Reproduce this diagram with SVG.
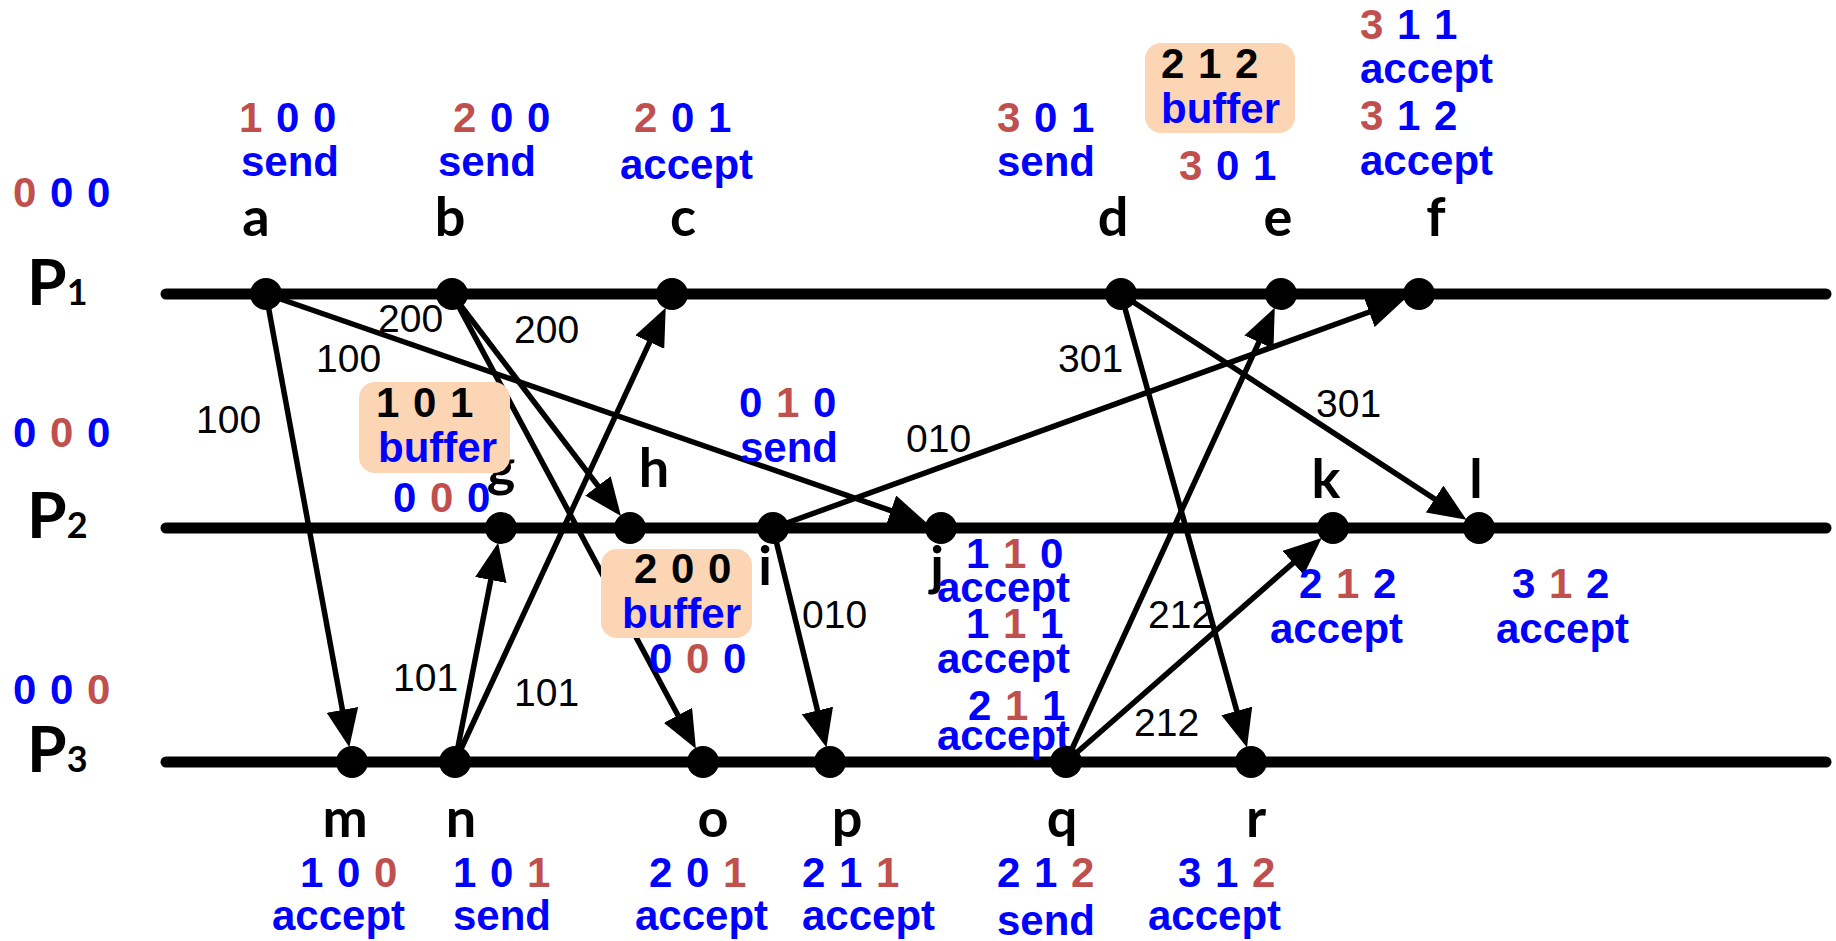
<svg xmlns="http://www.w3.org/2000/svg" width="1836" height="941" viewBox="0 0 1836 941">
<style>
.v{font-family:"Liberation Sans",Arial,sans-serif;font-weight:bold;font-size:42px;word-spacing:2px}
.b{fill:#0000FF}.r{fill:#C0504D}.k{fill:#000}
.lbl{font-family:"Liberation Sans",Arial,sans-serif;font-size:39px;fill:#000}
.n{font-family:Lato,"Open Sans",sans-serif;font-weight:bold;font-size:54px;text-anchor:middle;fill:#000}
.p{font-family:Lato,"Open Sans",sans-serif;font-weight:bold;font-size:64px;fill:#000}
.p .s{font-size:36px}
.tl{stroke:#000;stroke-width:11;stroke-linecap:round}
.ar{stroke:#000;stroke-width:5.5;fill:none;marker-end:url(#ah)}
.box{fill:#FCD5B5}
.dot{fill:#000}
</style>
<defs>
<marker id="ah" markerUnits="userSpaceOnUse" markerWidth="38" markerHeight="32" viewBox="0 0 38 32" refX="28" refY="16" orient="auto">
<path d="M0,0 L38,16 L0,32 z" fill="#000"/>
</marker>
</defs>
<rect width="1836" height="941" fill="#fff"/>

<g id="processes">
<line class="tl" x1="166" y1="294" x2="1826" y2="294"/>
<line class="tl" x1="166" y1="528" x2="1826" y2="528"/>
<line class="tl" x1="166" y1="762" x2="1826" y2="762"/>
<text class="p" x="27" y="305">P<tspan class="s">1</tspan></text>
<text class="p" x="27" y="538">P<tspan class="s">2</tspan></text>
<text class="p" x="27" y="772">P<tspan class="s">3</tspan></text>
<text class="v" x="13" y="207"><tspan class="r">0</tspan> <tspan class="b">0</tspan> <tspan class="b">0</tspan></text>
<text class="v" x="13" y="447"><tspan class="b">0</tspan> <tspan class="r">0</tspan> <tspan class="b">0</tspan></text>
<text class="v" x="13" y="704"><tspan class="b">0</tspan> <tspan class="b">0</tspan> <tspan class="r">0</tspan></text>
</g>

<g id="connectors">
<path class="ar" d="M266,294 L347.5,737.4"/>
<path class="ar" d="M266,294 L917.4,519.8"/>
<path class="ar" d="M452,294 L614.9,508.1"/>
<path class="ar" d="M452,294 L691.2,740"/>
<path class="ar" d="M455,762 L496.2,552.5"/>
<path class="ar" d="M455,762 L661.5,316.7"/>
<path class="ar" d="M773,528 L1395.5,302.5"/>
<path class="ar" d="M773,528 L824.1,737.7"/>
<path class="ar" d="M1121,294 L1244.3,737.9"/>
<path class="ar" d="M1121,294 L1458.1,514.3"/>
<path class="ar" d="M1066,762 L1270.6,316.7"/>
<path class="ar" d="M1066,762 L1314.2,544.5"/>
<text class="lbl" x="196" y="433">100</text>
<text class="lbl" x="316" y="372">100</text>
<text class="lbl" x="378" y="332">200</text>
<text class="lbl" x="514" y="343">200</text>
<text class="lbl" x="393" y="691">101</text>
<text class="lbl" x="514" y="706">101</text>
<text class="lbl" x="906" y="452">010</text>
<text class="lbl" x="802" y="628">010</text>
<text class="lbl" x="1058" y="372">301</text>
<text class="lbl" x="1316" y="417">301</text>
<text class="lbl" x="1148" y="628">212</text>
<text class="lbl" x="1134" y="736">212</text>
</g>

<g id="node-a"><circle class="dot" cx="266" cy="294" r="16"/><text class="n" x="256" y="236">a</text>
<text class="v" x="239" y="132"><tspan class="r">1</tspan> <tspan class="b">0</tspan> <tspan class="b">0</tspan></text>
<text class="v b" x="241" y="176">send</text></g>

<g id="node-b"><circle class="dot" cx="452" cy="294" r="16"/><text class="n" x="450" y="236">b</text>
<text class="v" x="453" y="132"><tspan class="r">2</tspan> <tspan class="b">0</tspan> <tspan class="b">0</tspan></text>
<text class="v b" x="438" y="176">send</text></g>

<g id="node-c"><circle class="dot" cx="672" cy="294" r="16"/><text class="n" x="683" y="236">c</text>
<text class="v" x="634" y="132"><tspan class="r">2</tspan> <tspan class="b">0</tspan> <tspan class="b">1</tspan></text>
<text class="v b" x="620" y="179">accept</text></g>

<g id="node-d"><circle class="dot" cx="1121" cy="294" r="16"/><text class="n" x="1113" y="236">d</text>
<text class="v" x="997" y="132"><tspan class="r">3</tspan> <tspan class="b">0</tspan> <tspan class="b">1</tspan></text>
<text class="v b" x="997" y="176">send</text></g>

<g id="node-e"><circle class="dot" cx="1281" cy="294" r="16"/><text class="n" x="1278" y="236">e</text>
<rect class="box" x="1145" y="43" width="150" height="90" rx="16"/>
<text class="v k" x="1161" y="78">2 1 2</text>
<text class="v b" x="1161" y="123">buffer</text>
<text class="v" x="1179" y="180"><tspan class="r">3</tspan> <tspan class="b">0</tspan> <tspan class="b">1</tspan></text></g>

<g id="node-f"><circle class="dot" cx="1419" cy="294" r="16"/><text class="n" x="1436" y="236">f</text>
<text class="v" x="1360" y="39"><tspan class="r">3</tspan> <tspan class="b">1</tspan> <tspan class="b">1</tspan></text>
<text class="v b" x="1360" y="83">accept</text>
<text class="v" x="1360" y="130"><tspan class="r">3</tspan> <tspan class="b">1</tspan> <tspan class="b">2</tspan></text>
<text class="v b" x="1360" y="175">accept</text></g>

<g id="node-g"><circle class="dot" cx="501" cy="528" r="16"/><text class="n" x="501" y="486">g</text>
<rect class="box" x="359" y="382" width="151" height="91" rx="16"/>
<text class="v k" x="376" y="417">1 0 1</text>
<text class="v b" x="378" y="462">buffer</text>
<text class="v" x="393" y="512"><tspan class="b">0</tspan> <tspan class="r">0</tspan> <tspan class="b">0</tspan></text></g>

<g id="node-h"><circle class="dot" cx="630" cy="528" r="16"/><text class="n" x="654" y="487">h</text>
<rect class="box" x="601" y="549" width="151" height="89" rx="16"/>
<text class="v k" x="634" y="583">2 0 0</text>
<text class="v b" x="622" y="628">buffer</text>
<text class="v" x="649" y="673"><tspan class="b">0</tspan> <tspan class="r">0</tspan> <tspan class="b">0</tspan></text></g>

<g id="node-i"><circle class="dot" cx="773" cy="528" r="16"/><text class="n" x="765" y="585">i</text>
<text class="v" x="739" y="417"><tspan class="b">0</tspan> <tspan class="r">1</tspan> <tspan class="b">0</tspan></text>
<text class="v b" x="740" y="462">send</text></g>

<g id="node-j"><circle class="dot" cx="941" cy="528" r="16"/><text class="n" x="937" y="585">j</text>
<text class="v" x="966" y="568"><tspan class="b">1</tspan> <tspan class="r">1</tspan> <tspan class="b">0</tspan></text>
<text class="v b" x="937" y="602">accept</text>
<text class="v" x="966" y="638"><tspan class="b">1</tspan> <tspan class="r">1</tspan> <tspan class="b">1</tspan></text>
<text class="v b" x="937" y="673">accept</text>
<text class="v" x="968" y="720"><tspan class="b">2</tspan> <tspan class="r">1</tspan> <tspan class="b">1</tspan></text>
<text class="v b" x="937" y="750">accept</text></g>

<g id="node-k"><circle class="dot" cx="1333" cy="528" r="16"/><text class="n" x="1326" y="498">k</text>
<text class="v" x="1299" y="598"><tspan class="b">2</tspan> <tspan class="r">1</tspan> <tspan class="b">2</tspan></text>
<text class="v b" x="1270" y="643">accept</text></g>

<g id="node-l"><circle class="dot" cx="1479" cy="528" r="16"/><text class="n" x="1476" y="498">l</text>
<text class="v" x="1512" y="598"><tspan class="b">3</tspan> <tspan class="r">1</tspan> <tspan class="b">2</tspan></text>
<text class="v b" x="1496" y="643">accept</text></g>

<g id="node-m"><circle class="dot" cx="352" cy="762" r="16"/><text class="n" x="345" y="837">m</text>
<text class="v" x="300" y="887"><tspan class="b">1</tspan> <tspan class="b">0</tspan> <tspan class="r">0</tspan></text>
<text class="v b" x="272" y="930">accept</text></g>

<g id="node-n"><circle class="dot" cx="455" cy="762" r="16"/><text class="n" x="461" y="837">n</text>
<text class="v" x="453" y="887"><tspan class="b">1</tspan> <tspan class="b">0</tspan> <tspan class="r">1</tspan></text>
<text class="v b" x="453" y="930">send</text></g>

<g id="node-o"><circle class="dot" cx="703" cy="762" r="16"/><text class="n" x="713" y="837">o</text>
<text class="v" x="649" y="887"><tspan class="b">2</tspan> <tspan class="b">0</tspan> <tspan class="r">1</tspan></text>
<text class="v b" x="635" y="930">accept</text></g>

<g id="node-p"><circle class="dot" cx="830" cy="762" r="16"/><text class="n" x="847" y="837">p</text>
<text class="v" x="802" y="887"><tspan class="b">2</tspan> <tspan class="b">1</tspan> <tspan class="r">1</tspan></text>
<text class="v b" x="802" y="930">accept</text></g>

<g id="node-q"><circle class="dot" cx="1066" cy="762" r="16"/><text class="n" x="1062" y="837">q</text>
<text class="v" x="997" y="887"><tspan class="b">2</tspan> <tspan class="b">1</tspan> <tspan class="r">2</tspan></text>
<text class="v b" x="997" y="935">send</text></g>

<g id="node-r"><circle class="dot" cx="1251" cy="762" r="16"/><text class="n" x="1256" y="837">r</text>
<text class="v" x="1178" y="887"><tspan class="b">3</tspan> <tspan class="b">1</tspan> <tspan class="r">2</tspan></text>
<text class="v b" x="1148" y="930">accept</text></g>
</svg>
